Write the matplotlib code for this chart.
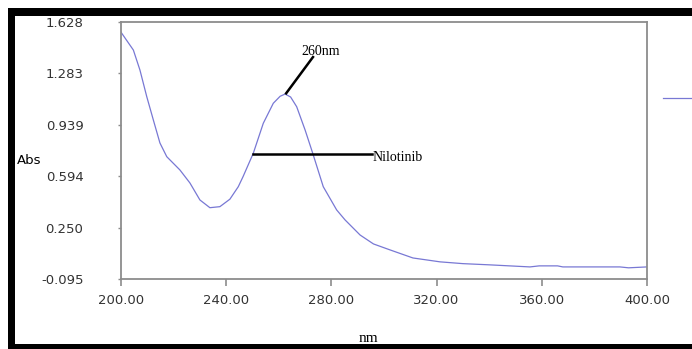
import numpy as np
import matplotlib.pyplot as plt
from matplotlib.patches import Rectangle

# spectrum
wavelength = [200.0, 200.3, 204.7, 207.2, 209.8, 212.3, 214.8, 217.4, 222.4, 226.2,
              230.0, 233.8, 237.6, 241.4, 244.6, 246.4, 250.3, 254.1, 257.9, 260.5,
              262.4, 264.5, 266.8, 270.0, 272.9, 276.9, 282.0, 285.2, 290.9, 296.0,
              302.3, 311.0, 321.3, 330.0, 340.0, 355.5, 359.0, 366.0, 368.0, 380.0,
              389.7, 393.0, 400.0]
absorb = [1.561, 1.552, 1.44, 1.306, 1.127, 0.971, 0.817, 0.725, 0.636, 0.549,
          0.435, 0.383, 0.390, 0.440, 0.524, 0.591, 0.748, 0.949, 1.083, 1.13,
          1.145, 1.125, 1.06, 0.904, 0.748, 0.524, 0.368, 0.301, 0.20, 0.14,
          0.10, 0.046, 0.02, 0.008, 0.0, -0.014, -0.007, -0.007, -0.014, -0.014,
          -0.014, -0.02, -0.014]

xticks = [200, 240, 280, 320, 360, 400]
yticks = [-0.095, 0.250, 0.594, 0.939, 1.283, 1.628]

W, H = 692, 349
fig = plt.figure(figsize=(W / 100, H / 100), dpi=100)
ax = fig.add_axes([121 / W, 1 - 279 / H, (647 - 121) / W, (279 - 22) / H])

line, = ax.plot(wavelength, absorb, color='#7878d4', lw=0.9)

ax.set_xlim(200, 400)
ax.set_ylim(-0.095, 1.628)
ax.set_xticks(xticks)
ax.set_xticklabels(['%.2f' % v for v in xticks])
ax.set_yticks(yticks)
ax.set_yticklabels(['%.3f' % v for v in yticks])

for s in ax.spines.values():
    s.set_color('#8c8c8c')
    s.set_linewidth(1.3)
ax.tick_params(axis='x', length=5, width=1.2, color='#8c8c8c', pad=6,
               labelsize=9.5, labelcolor='#333333')
ax.tick_params(axis='y', length=2, width=1, color='#8c8c8c', pad=25,
               labelsize=9.5, labelcolor='#333333')
for t in ax.get_xticklabels() + ax.get_yticklabels():
    t.set_family('DejaVu Sans')

# annotations
ax.plot([262.8, 273.0], [1.15, 1.393], color='black', lw=1.8)
ax.plot([250.2, 295.4], [0.743, 0.743], color='black', lw=1.8)
ax.text(268.6, 1.43, '260nm', family='Liberation Serif', fontsize=10, va='center')
ax.text(295.6, 0.72, 'Nilotinib', family='Liberation Serif', fontsize=10, va='center')

fig.text(17 / W, 1 - 160 / H, 'Abs', family='DejaVu Sans', fontsize=9.5, va='center')
fig.text(368 / W, 1 - 339 / H, 'nm', family='Liberation Serif', fontsize=11,
         va='center', ha='center')

fig.legend(handles=[line], labels=[' '], loc='center left',
           bbox_to_anchor=(663 / W, 1 - 99 / H), frameon=False,
           handlelength=2.7, borderpad=0, borderaxespad=0, handletextpad=0,
           fontsize=8)

# black frame around the picture
fig.add_artist(Rectangle((8 / W, 1 - 16 / H), 1, 8 / H, transform=fig.transFigure,
                         color='black', lw=0))
fig.add_artist(Rectangle((8 / W, 0), 7 / W, 1 - 8 / H, transform=fig.transFigure,
                         color='black', lw=0))
fig.add_artist(Rectangle((8 / W, 0), 1, 5 / H, transform=fig.transFigure,
                         color='black', lw=0))

fig.savefig('out.png', dpi=100)
